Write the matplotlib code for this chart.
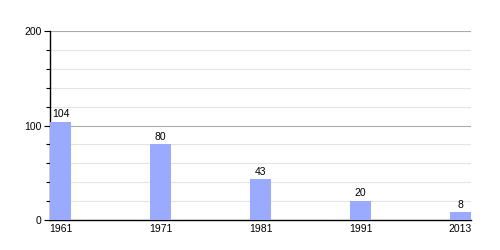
import matplotlib
matplotlib.use('Agg')
import matplotlib.pyplot as plt
from matplotlib.ticker import MultipleLocator

years = ['1961', '1971', '1981', '1991', '2013']
values = [104, 80, 43, 20, 8]

plt.rcParams['font.family'] = ['Liberation Sans', 'DejaVu Sans']

fig = plt.figure(figsize=(5, 2.5), dpi=100)
ax = fig.add_axes([0.1, 0.12, 0.842, 0.756])

width = 0.21
pos = list(range(len(years)))
bars = ax.bar(pos, values, width=width, align='edge', color='#99aaff', zorder=3)
for p, v in zip(pos, values):
    ax.text(p + width / 2, v + 3, str(v), ha='center', va='bottom', fontsize=7.5)

ax.set_xlim(0, len(years) - 1 + width)
ax.set_ylim(0, 200)
ax.set_xticks([p + width / 2 for p in pos])
ax.set_xticklabels(years, fontsize=7.5)
ax.tick_params(axis='x', length=0, pad=3)
ax.yaxis.set_major_locator(MultipleLocator(100))
ax.yaxis.set_minor_locator(MultipleLocator(20))
ax.tick_params(axis='y', which='major', length=4, width=0.8, labelsize=7.5, pad=2)
ax.tick_params(axis='y', which='minor', length=3, width=0.8)
ax.grid(axis='y', which='major', color='#aaaaaa', linewidth=0.8, zorder=0)
ax.grid(axis='y', which='minor', color='#e4e4e4', linewidth=0.8, zorder=0)

for s in ['top', 'right']:
    ax.spines[s].set_visible(False)
ax.spines['left'].set_linewidth(1)
ax.spines['bottom'].set_linewidth(1)

fig.savefig('out.png', dpi=100)
